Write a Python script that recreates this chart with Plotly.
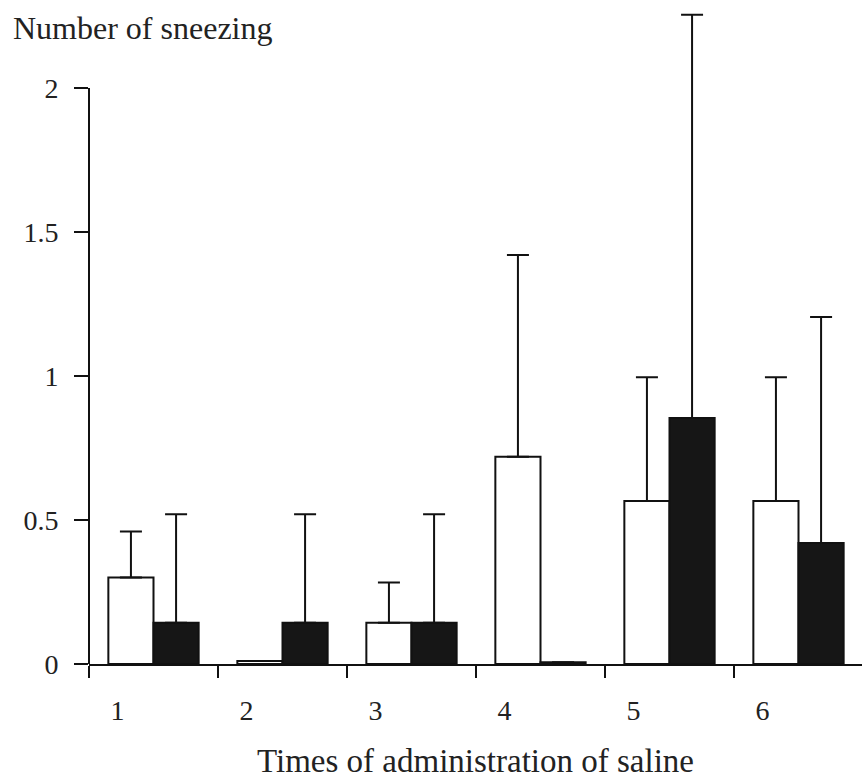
import plotly.graph_objects as go

times = [1, 2, 3, 4, 5, 6]
white_vals = [0.30, 0.01, 0.143, 0.72, 0.566, 0.566]
white_err = [0.16, 0.0, 0.14, 0.70, 0.43, 0.43]
black_vals = [0.143, 0.143, 0.143, 0.006, 0.854, 0.42]
black_err = [0.377, 0.377, 0.377, 0.0, 1.40, 0.785]
ytick_vals = [0, 0.5, 1, 1.5, 2]
ytick_text = ["0", "0.5", "1", "1.5", "2"]

SERIF = "Liberation Serif"

fig = go.Figure()
fig.add_trace(go.Bar(
    x=times, y=white_vals, name="white",
    marker=dict(color="white", line=dict(color="#111", width=2)),
    error_y=dict(type="data", array=white_err, arrayminus=[0]*6, symmetric=False,
                 color="#111", thickness=2, width=11),
))
fig.add_trace(go.Bar(
    x=times, y=black_vals, name="black",
    marker=dict(color="#161616", line=dict(color="#111", width=2)),
    error_y=dict(type="data", array=black_err, arrayminus=[0]*6, symmetric=False,
                 color="#111", thickness=2, width=11),
))

label_pos = [t - 0.28 for t in times]

fig.update_layout(
    width=862, height=779,
    margin=dict(l=89, r=0, t=4, b=115),
    paper_bgcolor="white", plot_bgcolor="white",
    barmode="group", bargap=0.3, bargroupgap=0,
    showlegend=False,
    font=dict(family=SERIF, color="#222"),
    xaxis=dict(
        range=[0.5, 0.5 + 773 / 129],
        tickvals=label_pos, ticktext=[str(t) for t in times],
        ticks="", showgrid=False, zeroline=False, automargin=False,
        showline=True, linecolor="#111", linewidth=2,
        tickfont=dict(family=SERIF, size=28, color="#222"),
        ticklabelstandoff=20,
        minor=dict(tick0=0.5, dtick=1, ticks="outside", ticklen=12,
                   tickwidth=2, tickcolor="#111", showgrid=False),
        title=dict(text="Times of administration of saline",
                   font=dict(family=SERIF, size=33, color="#222"), standoff=34),
    ),
    yaxis=dict(
        range=[0, 660 / 288], automargin=False,
        tickvals=ytick_vals, ticktext=ytick_text,
        ticks="outside", ticklen=14, tickwidth=2, tickcolor="#111",
        showgrid=False, zeroline=False, showline=False,
        tickfont=dict(family=SERIF, size=28, color="#222"),
        ticklabelstandoff=10,
    ),
    shapes=[dict(type="line", xref="paper", yref="y", x0=0, x1=0,
                 y0=ytick_vals[0], y1=ytick_vals[-1],
                 line=dict(color="#111", width=2))],
    annotations=[dict(text="Number of sneezing", xref="paper", yref="paper",
                      x=-89 / 773, y=1, xanchor="left", yanchor="top",
                      xshift=11, yshift=-4, showarrow=False,
                      font=dict(family=SERIF, size=32, color="#222"))],
)

fig.write_html("out.html")
